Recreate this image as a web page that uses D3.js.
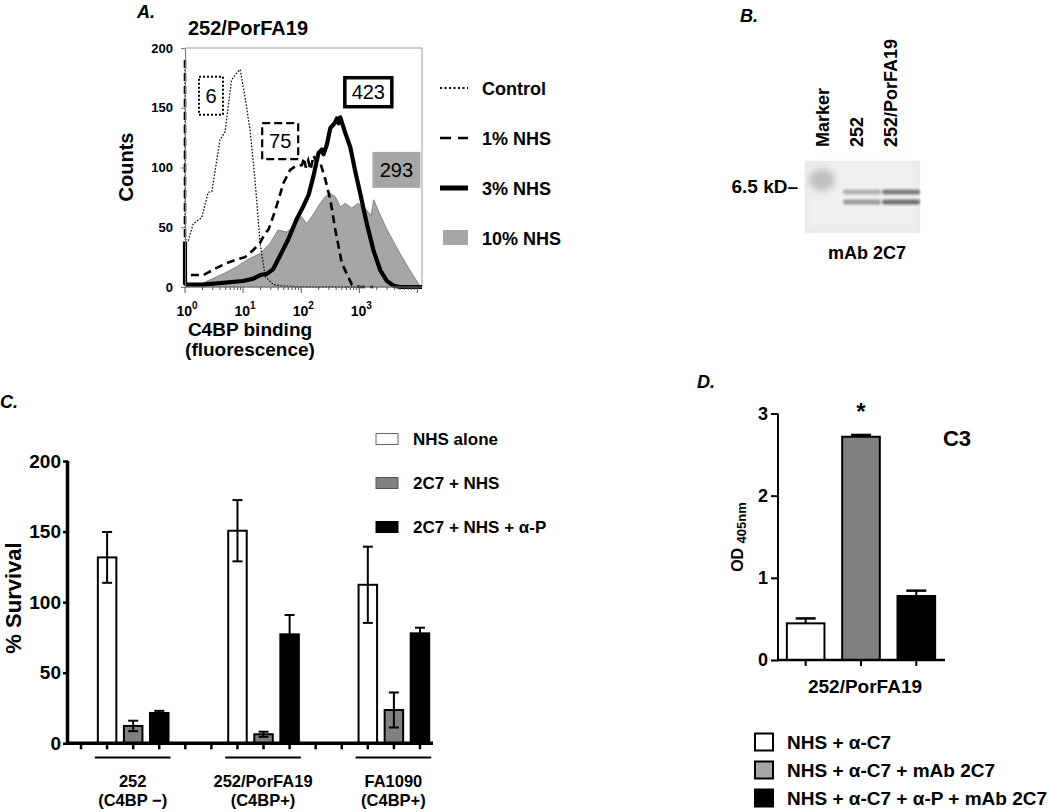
<!DOCTYPE html>
<html><head><meta charset="utf-8">
<script src="https://cdn.jsdelivr.net/npm/d3@7"></script>
<style>
body{margin:0;background:#fff}
svg{display:block}
text{font-family:"Liberation Sans",Arial,Helvetica,sans-serif;fill:#000}
</style>
</head><body>
<svg id="c" width="1050" height="812"></svg>
<script>
// ================= DATA =================
// Panel A: flow cytometry histograms (fluorescence, counts)
const ctrlX = [1, 1, 1.14, 1.39, 1.94, 2.5, 2.9, 4.0, 4.9, 6.3, 7.4, 8.9, 10.8, 13.2, 16, 19.6, 24, 33, 45, 70, 120, 300, 1000];
const ctrlY = [190, 40, 39, 53, 58, 79, 80, 123, 130, 173, 178, 182, 159, 131, 90, 37, 9, 2, 1, 0.5, 0, 0, 0];
const nhs1X = [1, 1, 1.37, 2.07, 3.5, 5.2, 7.8, 10.8, 15, 19.6, 24, 27.4, 35.7, 49.5, 64.5, 79, 103, 112, 120, 132, 145, 163, 185, 213, 260, 317, 386, 500, 745, 1000, 1740];
const nhs1Y = [190, 10, 10, 10, 16, 20, 23, 25, 31, 37, 45, 48, 64, 87, 98, 101, 102, 108, 100, 106, 98, 110, 104, 104, 90, 73, 48, 20, 2, 0, 0];
const nhs3X = [1, 1, 1.05, 2, 3.5, 10, 15, 19.6, 25.6, 33, 43, 60, 84, 110, 134, 163, 198, 226, 242, 276, 317, 360, 386, 410, 440, 470, 500, 573, 700, 850, 1040, 1360, 1770, 2300, 3000, 3900, 5000, 12000];
const nhs3Y = [38, 3, 2, 2, 3, 5, 7, 10, 11, 15, 26, 40, 57, 68, 77, 93, 112, 115, 111, 119, 133, 136, 138, 141, 137, 142, 138, 129, 117, 97, 78, 52, 30, 14, 5, 1, 0, 0];
const nhs10X = [1, 1.5, 2, 3.5, 5, 7.8, 11.6, 19.6, 29, 40, 56, 74, 100, 125, 163, 213, 260, 317, 386, 470, 573, 745, 960, 1360, 1600, 1770, 2200, 3000, 5000, 7900, 11000, 12000];
const nhs10Y = [0, 2, 3, 8.6, 12, 17, 22.6, 28, 36.5, 47.7, 46, 50.5, 59, 53, 61, 70, 75.6, 78.4, 75.6, 67, 70, 66, 70, 64, 60, 73, 62, 48, 28, 12, 1, 0];
const seriesA = ["Control", "1% NHS", "3% NHS", "10% NHS"];
const mfiA = ["6", "75", "423", "293"];
const mfiAtX = [2.8, 43.5, 1430, 4350];     // label anchor (fluorescence)
const mfiAtY = [160, 122, 163, 98];          // label anchor (counts)
const yTicksA = [0, 50, 100, 150, 200];
const xDecadesA = [0, 1, 2, 3];

// Panel B: western blot
const lanesB = ["Marker", "252", "252/PorFA19"];
const bandLane = [0, 1, 1, 2, 2];
const bandMig = [6.2, 6.1, 5.6, 6.1, 5.6];    // apparent kD
const bandInt = [0.2, 0.26, 0.34, 0.47, 0.53];

// Panel C: serum bactericidal assay
const groupsC = ["252", "252/PorFA19", "FA1090"];
const groupSubC = ["(C4BP \u2212)", "(C4BP+)", "(C4BP+)"];
const seriesC = ["NHS alone", "2C7 + NHS", "2C7 + NHS + \u03b1-P"];
const survMean = [[131.7, 12.3, 21.5], [150.6, 6.4, 77.2], [112.3, 23.6, 77.9]];
const survErr = [[18, 3.7, 1.5], [21.7, 1.8, 13.7], [27, 12.4, 4]];
const yTicksC = [0, 50, 100, 150, 200];

// Panel D: C3 ELISA
const seriesD = ["NHS + \u03b1-C7", "NHS + \u03b1-C7 + mAb 2C7", "NHS + \u03b1-C7 + \u03b1-P + mAb 2C7"];
const odMean = [0.446, 2.717, 0.779];
const odErr = [0.06, 0.022, 0.065];
const yTicksD = [0, 1, 2, 3];

// ================= DRAW =================
const svg = d3.select("#c");
const defs = svg.append("defs");
defs.append("filter").attr("id", "blur2").attr("x", "-50%").attr("y", "-50%").attr("width", "200%").attr("height", "200%")
  .append("feGaussianBlur").attr("stdDeviation", 1.2);
defs.append("filter").attr("id", "blur4").attr("x", "-50%").attr("y", "-50%").attr("width", "200%").attr("height", "200%")
  .append("feGaussianBlur").attr("stdDeviation", 3.5);
const FF = '"Liberation Sans",Arial,sans-serif';

function panelLabel(t, x, y) {
  svg.append("text").attr("x", x).attr("y", y).attr("font-size", 18).attr("font-weight", "bold")
    .attr("font-style", "italic").text(t);
}
const grey = t => { const v = Math.round(240 * (1 - t)); return d3.rgb(v, v, v).toString(); };

// ---------- Panel A ----------
const xA = d3.scaleLog().domain([1, 12000]).range([185, 422]);
const yA = d3.scaleLinear().domain([0, 200]).range([287, 48]);
const gA = svg.append("g");
panelLabel("A.", 137, 18);
gA.append("text").attr("x", 248).attr("y", 35).attr("text-anchor", "middle")
  .attr("font-size", 20).attr("font-weight", "bold").text("252/PorFA19");

gA.append("path").attr("d", `M${xA.range()[0]},${yA(200)}H${xA.range()[1]}V${yA(0)}`)
  .attr("fill", "none").attr("stroke", "#9a9a9a").attr("stroke-width", 1);

const pts = (X, Y) => X.map((x, i) => [x, Y[i]]);
gA.append("path").datum(pts(nhs10X, nhs10Y))
  .attr("d", d3.area().x(d => xA(d[0])).y0(yA(0)).y1(d => yA(d[1])))
  .attr("fill", "#a6a6a6").attr("stroke", "#6e6e6e").attr("stroke-width", 0.8);

const lineA = d3.line().x(d => xA(d[0])).y(d => yA(d[1]));
gA.append("path").datum(pts(ctrlX, ctrlY)).attr("d", lineA)
  .attr("fill", "none").attr("stroke", "#111").attr("stroke-width", 1.3).attr("stroke-dasharray", "1.6,1.6");
gA.append("path").datum(pts(nhs1X, nhs1Y)).attr("d", lineA)
  .attr("fill", "none").attr("stroke", "#000").attr("stroke-width", 2.6).attr("stroke-dasharray", "8,5");
gA.append("path").datum(pts(nhs3X, nhs3Y)).attr("d", lineA)
  .attr("fill", "none").attr("stroke", "#000").attr("stroke-width", 4.2).attr("stroke-linejoin", "round");

const axYA = gA.append("g").attr("transform", `translate(${xA.range()[0]},0)`)
  .call(d3.axisLeft(yA).tickValues(yTicksA).tickSize(4).tickPadding(8));
axYA.select(".domain").attr("stroke", "#777");
axYA.selectAll(".tick line").attr("stroke", "#777");
axYA.selectAll("text").attr("font-size", 13).attr("font-weight", "bold").attr("font-family", FF);

const minorA = [];
for (let d = 0; d < 5; d++) for (let m = 1; m < 10; m++) { const v = m * Math.pow(10, d); if (v <= 12000) minorA.push(v); }
gA.append("line").attr("x1", xA.range()[0]).attr("x2", xA.range()[1]).attr("y1", yA(0)).attr("y2", yA(0)).attr("stroke", "#777");
gA.selectAll(".mt").data(minorA).join("line")
  .attr("x1", d => xA(d)).attr("x2", d => xA(d)).attr("y1", yA(0))
  .attr("y2", d => yA(0) + (Math.log10(d) % 1 === 0 ? 6 : 3)).attr("stroke", "#555").attr("stroke-width", 1);
const xl = gA.selectAll(".xl").data(xDecadesA).join("text")
  .attr("x", d => xA(Math.pow(10, d)) + 2).attr("y", 316).attr("text-anchor", "middle")
  .attr("font-size", 14).attr("font-weight", "bold");
xl.append("tspan").text("10");
xl.append("tspan").attr("dy", -7).attr("font-size", 10).text(d => d);

gA.append("text").attr("x", 250).attr("y", 336).attr("text-anchor", "middle").attr("font-size", 19).attr("font-weight", "bold").text("C4BP binding");
gA.append("text").attr("x", 250).attr("y", 356).attr("text-anchor", "middle").attr("font-size", 19).attr("font-weight", "bold").text("(fluorescence)");
gA.append("text").attr("transform", "translate(133,167) rotate(-90)").attr("text-anchor", "middle")
  .attr("font-size", 20).attr("font-weight", "bold").text("Counts");

const boxW = [24, 36, 47, 48], boxH = [38, 36, 29, 36];
const boxStyle = [
  {stroke: "#000", sw: 2, dash: "2,2", fill: "#fff"},
  {stroke: "#000", sw: 2.2, dash: "8,4", fill: "#fff"},
  {stroke: "#000", sw: 3.5, dash: null, fill: "#fff"},
  {stroke: "none", sw: 0, dash: null, fill: "#a6a6a6"}];
mfiA.forEach((t, i) => {
  const cx = xA(mfiAtX[i]), cy = yA(mfiAtY[i]);
  gA.append("rect").attr("x", cx - boxW[i] / 2).attr("y", cy - boxH[i] / 2).attr("width", boxW[i]).attr("height", boxH[i])
    .attr("fill", boxStyle[i].fill).attr("fill-opacity", i === 3 ? 1 : 0).attr("stroke", boxStyle[i].stroke)
    .attr("stroke-width", boxStyle[i].sw).attr("stroke-dasharray", boxStyle[i].dash);
  gA.append("text").attr("x", cx).attr("y", cy + 7).attr("text-anchor", "middle").attr("font-size", 20).text(t);
});

const legA = svg.append("g");
const legYA = d3.scalePoint().domain(seriesA).range([88, 238]);
const legStyles = [{sw: 2, dash: "2,2.5"}, {sw: 2.6, dash: "11,7"}, {sw: 5, dash: null}];
seriesA.forEach((s, i) => {
  const y = legYA(s);
  if (i < 3) legA.append("line").attr("x1", 440).attr("x2", 468).attr("y1", y).attr("y2", y)
    .attr("stroke", "#000").attr("stroke-width", legStyles[i].sw).attr("stroke-dasharray", legStyles[i].dash);
  else legA.append("rect").attr("x", 443).attr("y", y - 8).attr("width", 25).attr("height", 15).attr("fill", "#a6a6a6");
  legA.append("text").attr("x", 482).attr("y", y + 6.5).attr("font-size", 18).attr("font-weight", "bold").text(s);
});

// ---------- Panel B ----------
panelLabel("B.", 740, 22);
const gB = svg.append("g");
const laneX = d3.scaleBand().domain(lanesB).range([806, 920]).paddingInner(0.08);
const laneLab = d3.scalePoint().domain(lanesB).range([822, 890]);
const migY = d3.scaleLinear().domain([5.6, 6.1]).range([202, 192]);
gB.append("rect").attr("x", 805).attr("y", 161).attr("width", 115).attr("height", 72).attr("fill", "#eaeaea");
gB.append("rect").attr("x", 808).attr("y", 164).attr("width", 109).attr("height", 66).attr("fill", "#f0f0f0").attr("filter", "url(#blur4)");
lanesB.forEach(l => {
  gB.append("text").attr("transform", `translate(${laneLab(l) + 7},147) rotate(-90)`)
    .attr("font-size", 18).attr("font-weight", "bold").text(l);
});
bandMig.forEach((m, i) => {
  const lane = lanesB[bandLane[i]];
  const c = grey(bandInt[i]);
  if (bandLane[i] === 0) {
    gB.append("ellipse").attr("cx", laneLab(lane)).attr("cy", migY(m) - 10)
      .attr("rx", 13).attr("ry", 11).attr("fill", c).attr("filter", "url(#blur4)");
  } else {
    gB.append("rect").attr("x", laneX(lane) - 2).attr("y", migY(m) - 2.5).attr("width", laneX.bandwidth() + 2)
      .attr("height", 5).attr("rx", 2).attr("fill", c).attr("filter", "url(#blur2)");
  }
});
gB.append("text").attr("x", 798).attr("y", 193).attr("text-anchor", "end").attr("font-size", 19).attr("font-weight", "bold").text("6.5 kD\u2013");
gB.append("text").attr("x", 867).attr("y", 259).attr("text-anchor", "middle").attr("font-size", 18).attr("font-weight", "bold").text("mAb 2C7");

// ---------- Panel C ----------
panelLabel("C.", 0, 408);
const gC = svg.append("g");
const xC = d3.scaleBand().domain(d3.range(14)).range([68, 433]).paddingInner(0.29).paddingOuter(0.145);
const yC = d3.scaleLinear().domain([0, 200]).range([743.3, 461]);
const fillC = ["#ffffff", "#808080", "#000000"];
const slot = (g, s) => 1 + g * 5 + s;

const barsC = [];
survMean.forEach((row, g) => row.forEach((v, s) => barsC.push({g, s, v, e: survErr[g][s]})));
gC.selectAll(".barC").data(barsC).join("rect")
  .attr("x", d => xC(slot(d.g, d.s))).attr("width", xC.bandwidth())
  .attr("y", d => yC(d.v)).attr("height", d => yC(0) - yC(d.v))
  .attr("fill", d => fillC[d.s]).attr("stroke", "#000").attr("stroke-width", 2);
const ebC = gC.selectAll(".ebC").data(barsC).join("g");
ebC.append("line").attr("x1", d => xC(slot(d.g, d.s)) + xC.bandwidth() / 2).attr("x2", d => xC(slot(d.g, d.s)) + xC.bandwidth() / 2)
  .attr("y1", d => yC(d.v - d.e)).attr("y2", d => yC(d.v + d.e)).attr("stroke", "#000").attr("stroke-width", 2);
[1, -1].forEach(sg => ebC.append("line")
  .attr("x1", d => xC(slot(d.g, d.s)) + xC.bandwidth() / 2 - 5).attr("x2", d => xC(slot(d.g, d.s)) + xC.bandwidth() / 2 + 5)
  .attr("y1", d => yC(d.v + sg * d.e)).attr("y2", d => yC(d.v + sg * d.e)).attr("stroke", "#000").attr("stroke-width", 2));

const axYC = gC.append("g").attr("transform", "translate(68,0)")
  .call(d3.axisLeft(yC).tickValues(yTicksC).tickSize(5).tickPadding(2));
axYC.select(".domain").attr("stroke-width", 3.5).attr("d", `M-0.5,${yC(200)}V${yC(0) + 1.5}`);
axYC.selectAll(".tick line").attr("stroke-width", 2.5);
axYC.selectAll("text").attr("font-size", 19).attr("font-weight", "bold").attr("font-family", FF);

gC.append("line").attr("x1", 66).attr("x2", 433).attr("y1", yC(0)).attr("y2", yC(0)).attr("stroke", "#000").attr("stroke-width", 3.5);
gC.selectAll(".tkC").data(d3.range(14)).join("line")
  .attr("x1", d => xC(d) + xC.bandwidth() / 2).attr("x2", d => xC(d) + xC.bandwidth() / 2)
  .attr("y1", yC(0)).attr("y2", yC(0) + 6).attr("stroke", "#000").attr("stroke-width", 2.5);
groupsC.forEach((gname, g) => {
  const x0 = xC(slot(g, 0)) - 3, x1 = xC(slot(g, 2)) + xC.bandwidth() + 2, cx = (x0 + x1) / 2;
  gC.append("line").attr("x1", x0).attr("x2", x1).attr("y1", 757.5).attr("y2", 757.5).attr("stroke", "#000").attr("stroke-width", 2.2);
  gC.append("text").attr("x", cx).attr("y", 787).attr("text-anchor", "middle").attr("font-size", 16.5).attr("font-weight", "bold").text(gname);
  gC.append("text").attr("x", cx).attr("y", 806).attr("text-anchor", "middle").attr("font-size", 16.5).attr("font-weight", "bold").text(groupSubC[g]);
});
gC.append("text").attr("transform", "translate(21,598) rotate(-90)").attr("text-anchor", "middle")
  .attr("font-size", 22).attr("font-weight", "bold").text("% Survival");

const legYC = d3.scalePoint().domain(seriesC).range([439, 527]);
const legStrokeC = ["#666", "#555", "#000"];
seriesC.forEach((s, i) => {
  const y = legYC(s);
  gC.append("rect").attr("x", 376).attr("y", y - 5.5).attr("width", 22).attr("height", 11)
    .attr("fill", fillC[i]).attr("stroke", legStrokeC[i]).attr("stroke-width", 1);
  gC.append("text").attr("x", 413).attr("y", y + 6).attr("font-size", 17).attr("font-weight", "bold").text(s);
});

// ---------- Panel D ----------
panelLabel("D.", 697, 388);
const gD = svg.append("g");
const xD = d3.scaleBand().domain(seriesD).range([778, 944]).paddingInner(0.32).paddingOuter(0.16);
const yD = d3.scaleLinear().domain([0, 3]).range([660, 413.5]);
const fillD = ["#ffffff", "#808080", "#000000"];
gD.selectAll(".barD").data(seriesD).join("rect")
  .attr("x", d => xD(d)).attr("width", xD.bandwidth())
  .attr("y", (d, i) => yD(odMean[i])).attr("height", (d, i) => yD(0) - yD(odMean[i]))
  .attr("fill", (d, i) => fillD[i]).attr("stroke", "#000").attr("stroke-width", 2);
seriesD.forEach((s, i) => {
  const cx = xD(s) + xD.bandwidth() / 2;
  gD.append("line").attr("x1", cx).attr("x2", cx).attr("y1", yD(odMean[i])).attr("y2", yD(odMean[i] + odErr[i])).attr("stroke", "#000").attr("stroke-width", 2);
  gD.append("line").attr("x1", cx - 10).attr("x2", cx + 10).attr("y1", yD(odMean[i] + odErr[i])).attr("y2", yD(odMean[i] + odErr[i])).attr("stroke", "#000").attr("stroke-width", 2.5);
});
const axYD = gD.append("g").attr("transform", "translate(778,0)")
  .call(d3.axisLeft(yD).tickValues(yTicksD).tickFormat(d3.format("d")).tickSize(7).tickPadding(3));
axYD.select(".domain").attr("stroke-width", 2).attr("d", `M0,${yD(3)}V${yD(0)}`);
axYD.selectAll(".tick line").attr("stroke-width", 2);
axYD.selectAll("text").attr("font-size", 18).attr("font-weight", "bold").attr("font-family", FF);
gD.append("line").attr("x1", 777).attr("x2", 945).attr("y1", yD(0)).attr("y2", yD(0)).attr("stroke", "#000").attr("stroke-width", 2.5);
gD.selectAll(".tkD").data(seriesD).join("line")
  .attr("x1", d => xD(d) + xD.bandwidth() / 2).attr("x2", d => xD(d) + xD.bandwidth() / 2)
  .attr("y1", yD(0)).attr("y2", yD(0) + 6).attr("stroke", "#000").attr("stroke-width", 2);
gD.append("text").attr("x", xD(seriesD[1]) + xD.bandwidth() / 2).attr("y", 420).attr("text-anchor", "middle")
  .attr("font-size", 24).attr("font-weight", "bold").text("*");
gD.append("text").attr("x", 957).attr("y", 446).attr("text-anchor", "middle").attr("font-size", 22).attr("font-weight", "bold").text("C3");
gD.append("text").attr("x", 865).attr("y", 693).attr("text-anchor", "middle").attr("font-size", 19).attr("font-weight", "bold").text("252/PorFA19");
const odT = gD.append("text").attr("transform", "translate(743,537) rotate(-90)").attr("text-anchor", "middle").attr("font-weight", "bold");
odT.append("tspan").attr("font-size", 16).text("OD ");
odT.append("tspan").attr("font-size", 13).attr("dy", 3).text("405nm");

const legYD = d3.scalePoint().domain(seriesD).range([742, 798]);
const legFillD = ["#ffffff", "#a6a6a6", "#000000"];
seriesD.forEach((s, i) => {
  const y = legYD(s);
  gD.append("rect").attr("x", 755).attr("y", y - 8.5).attr("width", 18).attr("height", 17)
    .attr("fill", legFillD[i]).attr("stroke", "#000").attr("stroke-width", 2);
  gD.append("text").attr("x", 787).attr("y", y + 7).attr("font-size", 19).attr("font-weight", "bold").text(s);
});
</script>
</body></html>
